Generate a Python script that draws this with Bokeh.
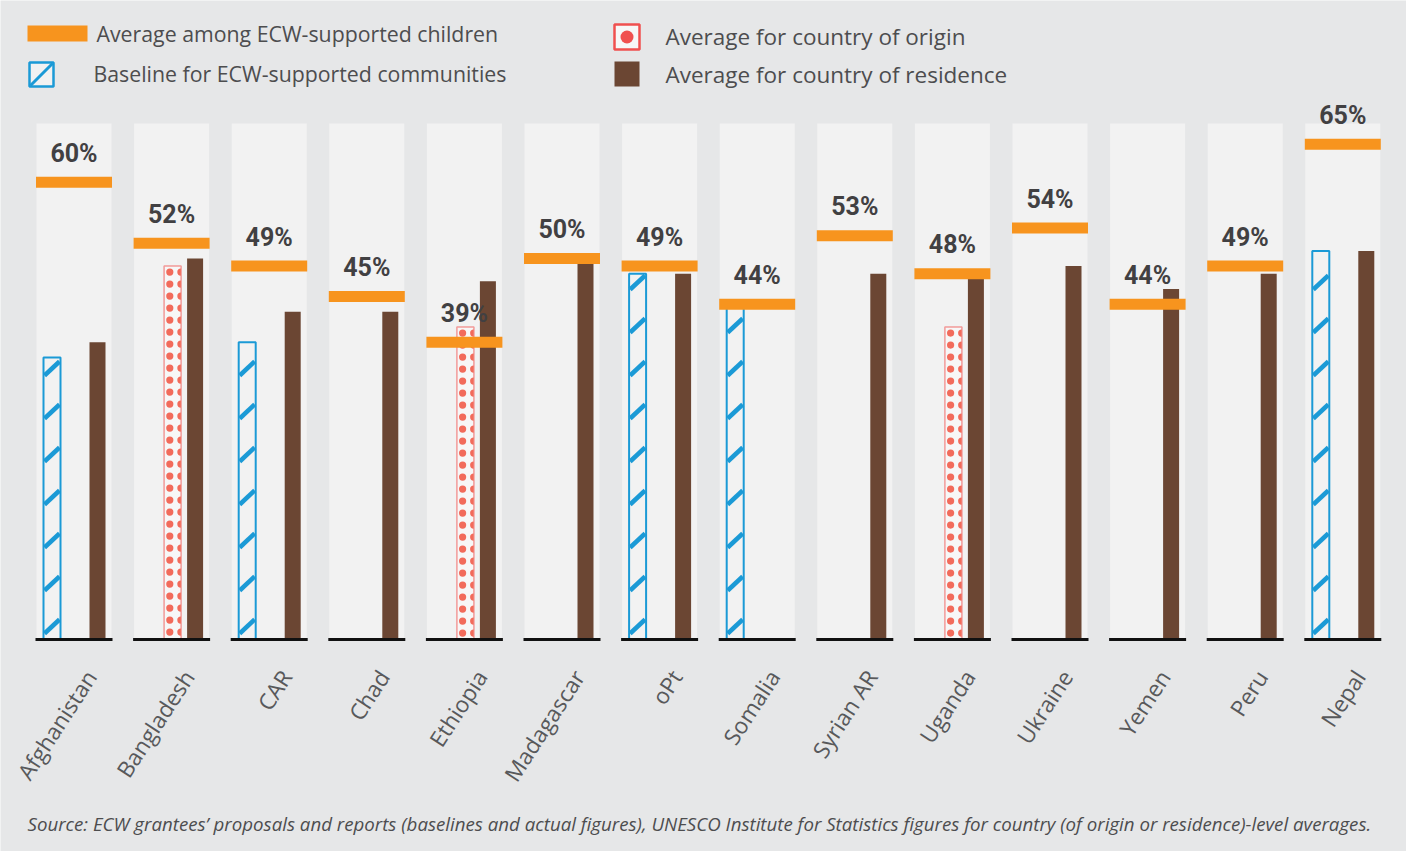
import math
from bokeh.plotting import figure
from bokeh.models import Range1d
from bokeh.core.properties import value
from bokeh.embed import file_html
from bokeh.resources import INLINE

# ---------------- data ----------------
countries = ["Afghanistan", "Bangladesh", "CAR", "Chad", "Ethiopia", "Madagascar", "oPt",
             "Somalia", "Syrian AR", "Uganda", "Ukraine", "Yemen", "Peru", "Nepal"]
ecw_average = [60, 52, 49, 45, 39, 50, 49, 44, 53, 48, 54, 44, 49, 65]
baseline_communities = [37, None, 39, None, None, None, 48, 44, None, None, None, None, None, 51]
origin_average = [None, 49, None, None, 41, None, None, None, None, 41, None, None, None, None]
residence_average = [39, 50, 43, 43, 47, 50, 48, None, 48, 47.5, 49, 46, 48, 51]

legend_labels = ["Average among ECW-supported children", "Baseline for ECW-supported communities",
                 "Average for country of origin", "Average for country of residence"]
source_note = ("Source: ECW grantees\u2019 proposals and reports (baselines and actual figures), "
               "UNESCO Institute for Statistics figures for country (of origin or residence)-level averages.")

# ---------------- styling / layout ----------------
W, H = 1406, 851
PITCH = 97.6          # px between panel centres
FIRST = 73.5          # canvas px of first panel centre
ZERO_Y = 639          # canvas px of 0 %
PPP = 7.62            # px per percentage point

ORANGE = "#f7941e"
BLUE = "#1b9ad6"
RED = "#f26b5b"
RED_LINE = "#f0504f"
BROWN = "#6b4633"
PANEL = "#f2f2f2"
BG = "#e6e7e8"
TXT = "#4d4d4f"


def X(px):  # page px -> data x
    return (px - 8 - FIRST) / PITCH


def Y(py):  # page px -> data y
    return (ZERO_Y - (py - 8)) / PPP


def hx(px):  # horizontal px offset -> data
    return px / PITCH


def vy(px):  # vertical px offset -> data
    return px / PPP


p = figure(width=W, height=H, x_range=Range1d(X(8), X(8 + W)), y_range=Range1d(Y(8 + H), Y(8)),
           output_backend="svg", toolbar_location=None, min_border=0,
           x_axis_type=None, y_axis_type=None,
           background_fill_color=BG, border_fill_color=BG, outline_line_color=None)
p.grid.visible = False

idx = list(range(len(countries)))

# panels
p.quad(left=[i - hx(37.5) for i in idx], right=[i + hx(37.5) for i in idx],
       bottom=0, top=Y(131), fill_color=PANEL, line_color=None)


def pick(vals):
    xs = [i for i, v in enumerate(vals) if v is not None]
    ys = [v for v in vals if v is not None]
    return xs, ys


# ---- baseline (hatched blue) bars ----
bx, bv = pick(baseline_communities)
p.vbar(x=[i - hx(22) for i in bx], top=bv, bottom=0, width=hx(17),
       fill_color=PANEL, line_color=BLUE, line_width=2)
sx0, sx1, sy0, sy1 = [], [], [], []
for i, v in zip(bx, bv):
    left, span, rise = i - hx(29.5), 15.0, 14.0
    k = 0
    while True:
        y0 = vy(6 + 43 * k)
        if y0 >= v - vy(2):
            break
        y1 = y0 + vy(rise)
        frac = 1.0
        if y1 > v:
            frac = (v - y0) / vy(rise)
            y1 = v
        sx0.append(left)
        sx1.append(left + hx(span * frac))
        sy0.append(y0)
        sy1.append(y1)
        k += 1
p.segment(x0=sx0, y0=sy0, x1=sx1, y1=sy1, line_color=BLUE, line_width=4.5)

# ---- country of origin (dotted red) bars ----
ox, ov = pick(origin_average)
p.vbar(x=[i + hx(1) for i in ox], top=ov, bottom=0, width=hx(17),
       fill_color="#f7f7f7", line_color=RED_LINE, line_width=1.5, line_alpha=0.55)
dx1, dy1, dx2 = [], [], []
for i, v in zip(ox, ov):
    k = 0
    while True:
        yy = v - vy(6 + 12 * k)
        if yy < vy(3):
            break
        dx1.append(i - hx(1.8))
        dy1.append(yy)
        dx2.append(i + hx(9.3))
        k += 1
p.scatter(x=dx1, y=dy1, size=7.2, marker="circle", fill_color=RED, line_color=None)
p.wedge(x=dx2, y=dy1, radius=3.6, radius_units="screen", start_angle=math.pi / 2,
        end_angle=3 * math.pi / 2, fill_color=RED, line_color=None)

# ---- country of residence (brown) bars ----
rx, rv = pick(residence_average)
p.vbar(x=[i + hx(23.5) for i in rx], top=rv, bottom=0, width=hx(16),
       fill_color=BROWN, line_color=None)

# baseline per panel
p.segment(x0=[i - hx(38.5) for i in idx], x1=[i + hx(38.5) for i in idx],
          y0=0, y1=0, line_color="#111111", line_width=3)

# ECW average markers
p.rect(x=idx, y=ecw_average, width=hx(76), height=11, height_units="screen",
       fill_color=ORANGE, line_color=None)

# percent labels
p.text(x=idx, y=[v + vy(29) for v in ecw_average], text=[f"{v}%" for v in ecw_average],
       text_align="center", text_baseline="middle",
       text_font=value("Roboto"), text_font_style="bold",
       text_font_size="25px", text_color="#414042")

# country labels
p.text(x=[i + hx(17) for i in idx], y=Y(680), text=countries, angle=math.radians(57),
       text_align="right", text_baseline="middle",
       text_font=value("Open Sans"), text_font_size="22.5px", text_color="#58595b")

# ---------------- legend ----------------
p.quad(left=[X(35)], right=[X(95)], top=[Y(33)], bottom=[Y(49)], fill_color=ORANGE, line_color=None)
p.quad(left=[X(37)], right=[X(61)], top=[Y(70)], bottom=[Y(94)], fill_color=PANEL,
       line_color=BLUE, line_width=2.5)
p.segment(x0=[X(38)], y0=[Y(93)], x1=[X(60)], y1=[Y(71)], line_color=BLUE, line_width=3)
p.quad(left=[X(622)], right=[X(647)], top=[Y(32)], bottom=[Y(57)], fill_color="#f7f7f7",
       line_color=RED_LINE, line_width=2.5)
p.scatter(x=[X(634.5)], y=[Y(44.5)], size=13, marker="circle", fill_color=RED_LINE, line_color=None)
p.quad(left=[X(622)], right=[X(647)], top=[Y(69)], bottom=[Y(94)], fill_color=BROWN, line_color=None)

p.text(x=[X(104), X(101)], y=[Y(41), Y(81)], text=legend_labels[:2],
       text_align="left", text_baseline="middle", text_font=value("Open Sans"),
       text_font_size="21.3px", text_color=TXT)
p.text(x=[X(673), X(673)], y=[Y(44), Y(82)], text=legend_labels[2:],
       text_align="left", text_baseline="middle", text_font=value("Open Sans"),
       text_font_size="22.5px", text_color=TXT)

# source
p.text(x=[X(35)], y=[Y(831)], text=[source_note], text_align="left", text_baseline="middle",
       text_font=value("Open Sans"), text_font_style="italic",
       text_font_size="18.7px", text_color=TXT)

open("out.html", "w").write(file_html(p, INLINE))
